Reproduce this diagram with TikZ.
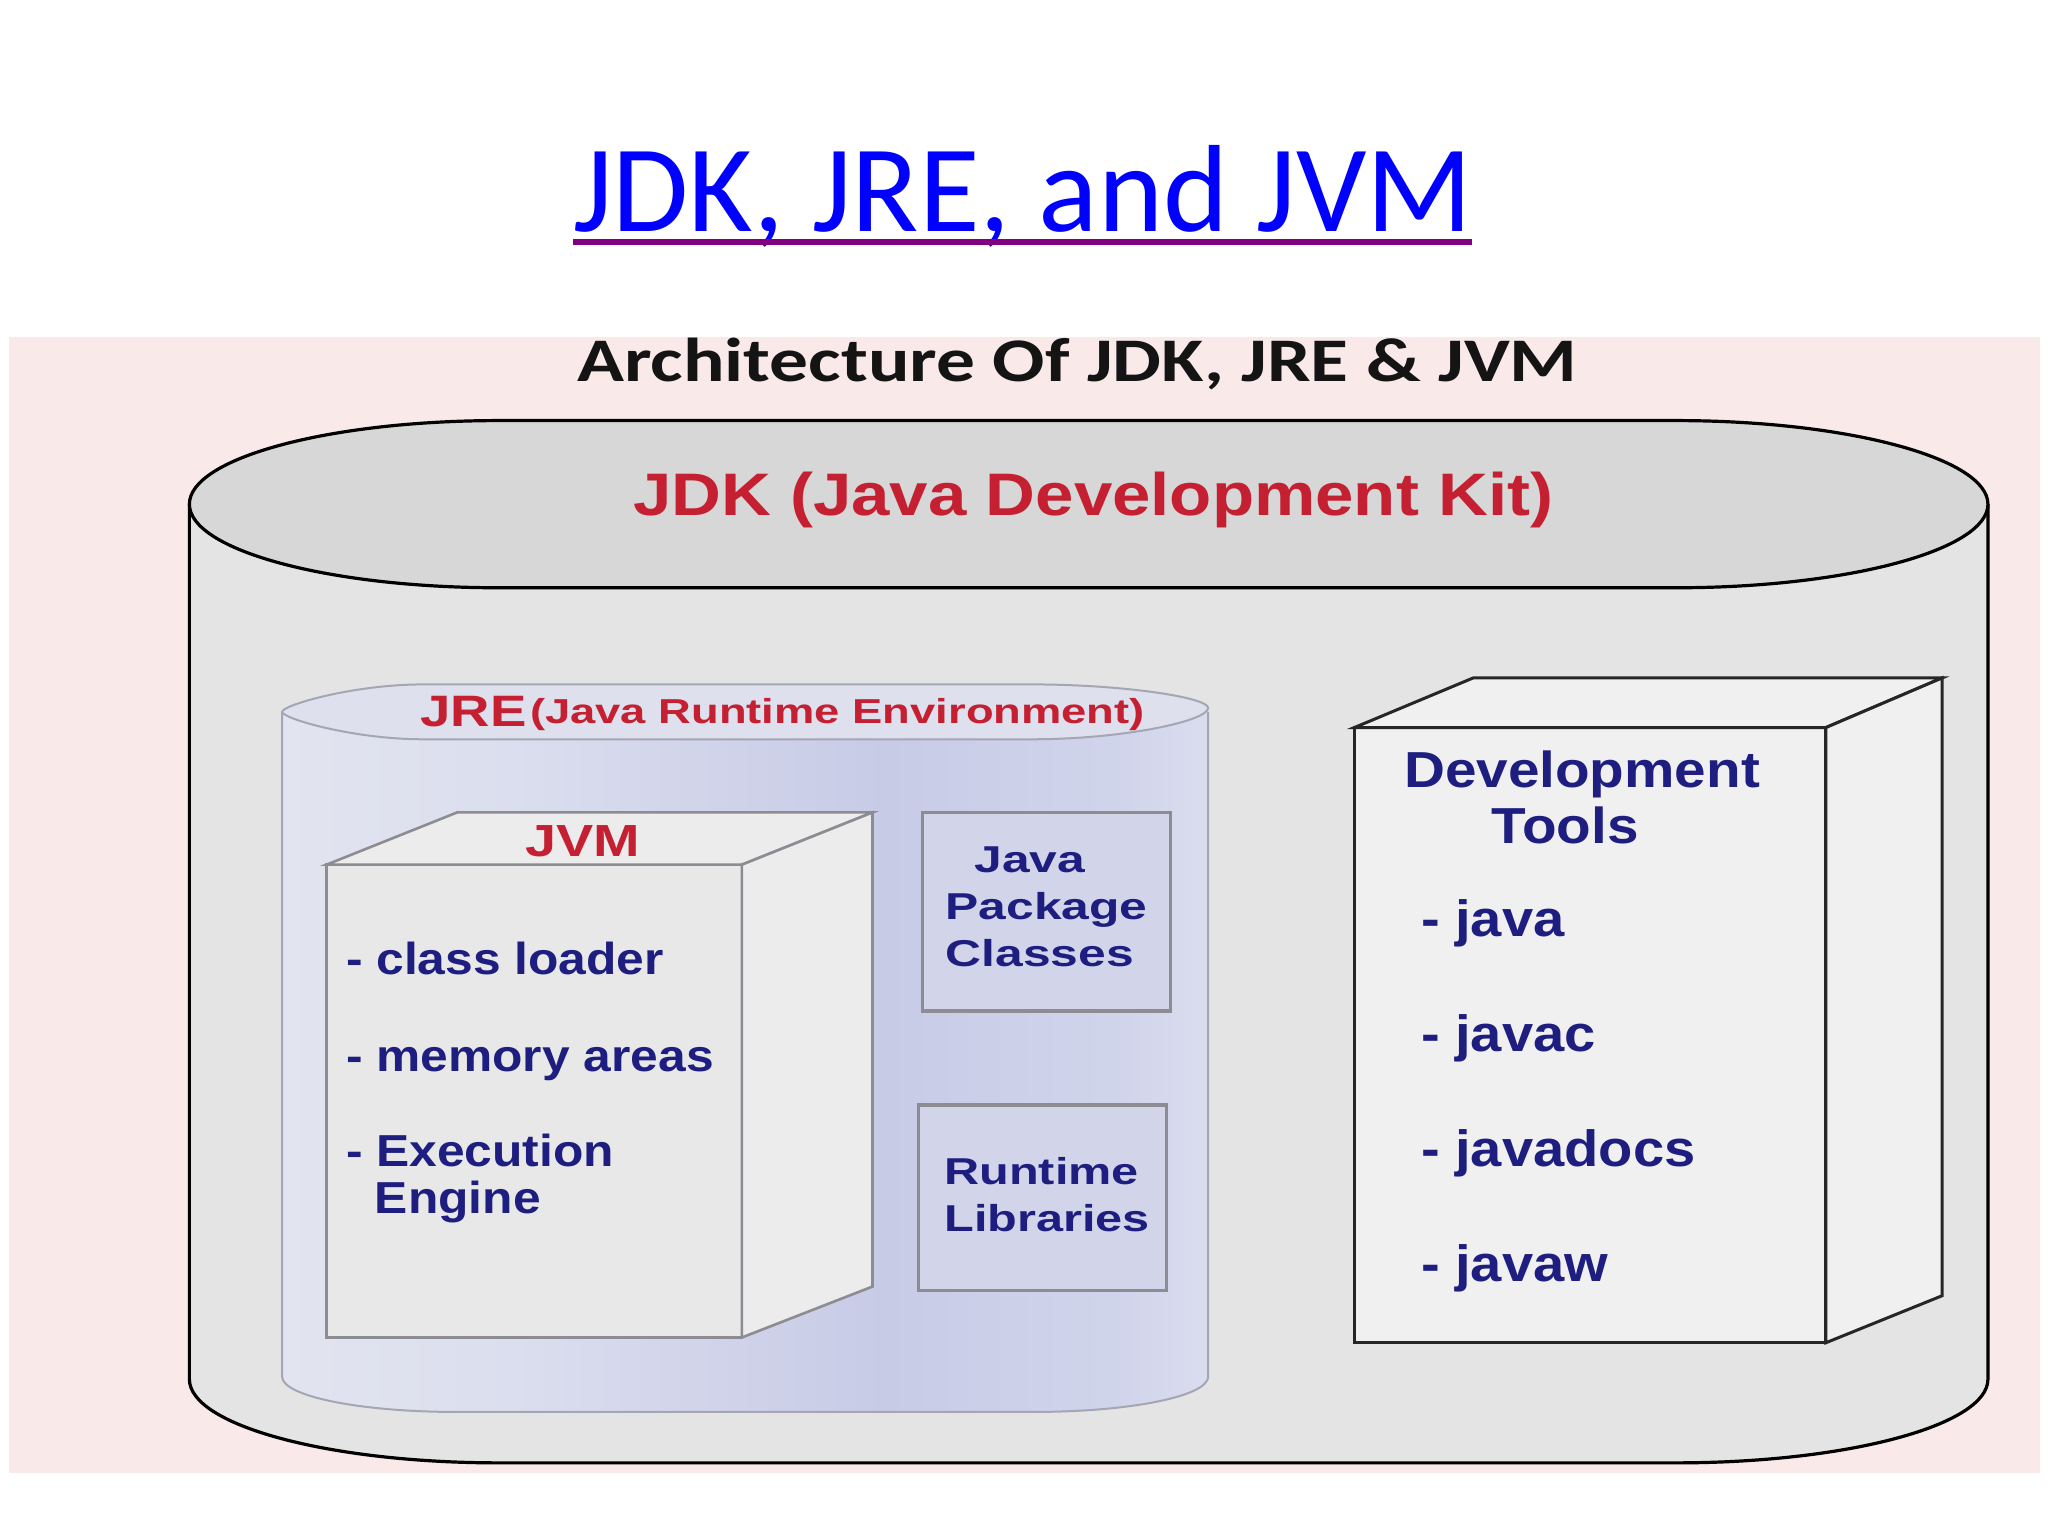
\documentclass[tikz,border=0pt]{standalone}
\usepackage{fontspec}
\setmainfont{Carlito}
\newfontfamily\arialf{Liberation Sans}
\usepackage{graphicx}
\usetikzlibrary{calc}
\definecolor{bgpink}{RGB}{249,233,233}
\definecolor{jdkbody}{RGB}{228,228,228}
\definecolor{jdktop}{RGB}{215,215,215}
\definecolor{jred}{RGB}{196,32,50}
\definecolor{jnavy}{RGB}{30,30,128}
\definecolor{jreedge}{RGB}{165,166,180}
\definecolor{jretop}{RGB}{222,224,238}
\definecolor{boxgray}{RGB}{140,140,146}
\definecolor{jvmfront}{RGB}{232,232,232}
\definecolor{jvmtopc}{RGB}{236,236,236}
\definecolor{libfill}{RGB}{210,213,234}
\definecolor{devfill}{RGB}{240,240,240}
\definecolor{ulpurple}{RGB}{128,0,128}
\definecolor{jreA}{RGB}{226,228,239}
\definecolor{jreB}{RGB}{219,222,238}
\definecolor{jreC}{RGB}{199,203,230}
\definecolor{jreD}{RGB}{208,212,235}
\definecolor{jreE}{RGB}{218,221,238}
\pgfdeclarehorizontalshading{jreshade}{100bp}{%
  color(0bp)=(jreA);
  color(25bp)=(jreA);
  color(37.5bp)=(jreB);
  color(57.5bp)=(jreC);
  color(70bp)=(jreD);
  color(75bp)=(jreE);
  color(100bp)=(jreE)}
\newcommand{\sx}[2]{\scalebox{#1}[1]{#2}}
\tikzset{
  lbl/.style={inner sep=0pt, outer sep=0pt},
  afont/.style={font=\arialf\bfseries\fontsize{#1}{#1}\selectfont},
  redtxt/.style={lbl, text=jred, afont=#1},
  navytxt/.style={lbl, text=jnavy, afont=#1},
  jdkline/.style={draw=black, line width=1.6pt},
  jvmline/.style={draw=boxgray, line width=1.3pt},
  libbox/.style={draw=boxgray, line width=1.6pt, fill=libfill},
  devline/.style={draw=black!85, line width=1.5pt, fill=devfill},
}
\begin{document}
\begin{tikzpicture}[x=0.653pt,y=-0.653pt]
\useasboundingbox (0,0) rectangle (1568,1176);
\fill[white] (0,0) rectangle (1568,1176);

% slide title
\node[lbl, anchor=base, text=blue, font=\fontsize{62}{62}\selectfont] (title) at (783,177) {JDK, JRE, and JVM};
\draw[ulpurple, line width=3pt] ($(title.base west)+(0,8)$) -- ($(title.base east)+(0,8)$);

% pink backdrop
\fill[bgpink] (7,258) rectangle (1562,1128);

\node[lbl, anchor=base, text=black!92, font=\bfseries\fontsize{31}{31}\selectfont] (arch) at (825,292) {\sx{1.25}{Architecture Of JDK, JRE \& JVM}};

% JDK cylinder
\path[fill=jdkbody, jdkline] (145,386) -- (145,1056) .. controls (145,1091) and (251,1120) .. (382,1120) -- (1283,1120) .. controls (1415,1120) and (1522,1091) .. (1522,1056) -- (1522,386);
\path[fill=jdktop, jdkline] (382,322) -- (1283,322) .. controls (1415,322) and (1522,351) .. (1522,386) .. controls (1522,421) and (1415,450) .. (1283,450) -- (382,450) .. controls (251,450) and (145,421) .. (145,386) .. controls (145,351) and (251,322) .. (382,322) -- cycle;
\node[redtxt=30, anchor=base] (jdk) at (837,395) {\sx{1.15}{JDK (Java Development Kit)}};

% JRE cylinder
\shadedraw[shading=jreshade, draw=jreedge, line width=1pt] (216,545) -- (216,1054) .. controls (216,1069) and (276,1081) .. (349,1081) -- (792,1081) .. controls (865,1081) and (925,1069) .. (925,1054) -- (925,545);
\filldraw[fill=jretop, draw=jreedge, line width=1pt] (324,524) -- (790,524) .. controls (860,524) and (925,534) .. (925,542) .. controls (925,552) and (860,566) .. (790,566) -- (324,566) .. controls (270,566) and (216,550) .. (216,545) .. controls (216,540) and (270,524) .. (324,524) -- cycle;
\node[redtxt=22, anchor=base west] (jre) at (322,556) {\sx{1.24}{JRE}};
\node[redtxt=17.3, anchor=base west] (jrefull) at (406,554) {\sx{1.31}{(Java Runtime Environment)}};

% JVM box
\path[fill=jvmfront, jvmline] (250,662) rectangle (568,1024);
\path[fill=jvmtopc, jvmline] (250,662) -- (350,622) -- (668,622) -- (568,662) -- cycle;
\path[fill=jvmtopc, jvmline] (568,662) -- (668,622) -- (668,985) -- (568,1024) -- cycle;
\node[redtxt=22.5, anchor=base] (jvm) at (446,656) {\sx{1.24}{JVM}};
\node[navytxt=22.4, anchor=base west] (cl) at (265,746) {\sx{1.11}{- class loader}};
\node[navytxt=22.4, anchor=base west] (ma) at (265,820) {\sx{1.11}{- memory areas}};
\node[navytxt=22.4, anchor=base west] (ex) at (265,893) {\sx{1.11}{- Execution}};
\node[navytxt=22.4, anchor=base west] (en) at (287,929) {\sx{1.11}{Engine}};

% Java Package Classes
\path[libbox] (706,622) rectangle (896,774);
\node[navytxt=18.7, anchor=base west] (pk1) at (746,668) {\sx{1.33}{Java}};
\node[navytxt=18.7, anchor=base west] (pk2) at (724,704) {\sx{1.33}{Package}};
\node[navytxt=18.7, anchor=base west] (pk3) at (724,740) {\sx{1.33}{Classes}};

% Runtime Libraries
\path[libbox] (703,846) rectangle (893,988);
\node[navytxt=18.7, anchor=base west] (rl1) at (723,907) {\sx{1.3}{Runtime}};
\node[navytxt=18.7, anchor=base west] (rl2) at (723,943) {\sx{1.3}{Libraries}};

% Development Tools box
\path[devline] (1037,557) rectangle (1398,1028);
\path[devline] (1037,557) -- (1128,519) -- (1487,519) -- (1398,557) -- cycle;
\path[devline] (1398,557) -- (1487,519) -- (1487,992) -- (1398,1028) -- cycle;
\node[navytxt=25.3, anchor=base west] (dt1) at (1075,603) {\sx{1.12}{Development}};
\node[navytxt=25.3, anchor=base west] (dt2) at (1142,646) {\sx{1.12}{Tools}};
\node[navytxt=25.5, anchor=base west] (d1) at (1088,717) {\sx{1.1}{- java}};
\node[navytxt=25.5, anchor=base west] (d2) at (1088,805) {\sx{1.1}{- javac}};
\node[navytxt=25.5, anchor=base west] (d3) at (1088,893) {\sx{1.1}{- javadocs}};
\node[navytxt=25.5, anchor=base west] (d4) at (1088,981) {\sx{1.1}{- javaw}};
\end{tikzpicture}
\end{document}
